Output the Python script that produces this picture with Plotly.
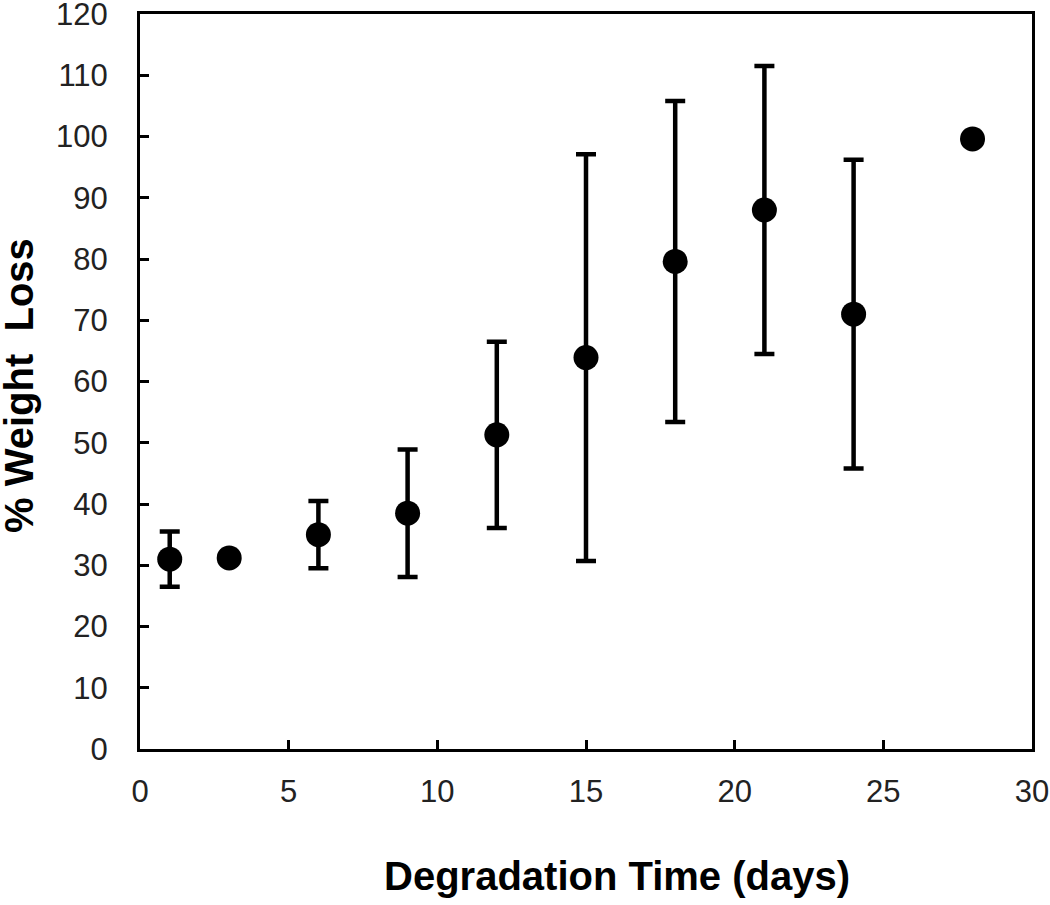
import plotly.graph_objects as go

days = [1, 3, 6, 9, 12, 15, 18, 21, 24, 28]
weight_loss = [31.0, 31.2, 35.0, 38.5, 51.3, 63.9, 79.6, 88.0, 71.0, 99.6]
error = [4.5, 0.5, 5.5, 10.4, 15.2, 33.2, 26.2, 23.5, 25.2, 0.0]

x_ticks = [0, 5, 10, 15, 20, 25, 30]
y_ticks = [0, 10, 20, 30, 40, 50, 60, 70, 80, 90, 100, 110, 120]

fig = go.Figure()
fig.add_trace(go.Scatter(
    x=days, y=weight_loss, mode="markers",
    marker=dict(color="black", size=25),
    error_y=dict(type="data", array=error, visible=True,
                 color="black", thickness=4.5, width=10),
    showlegend=False,
))

font_family = "Liberation Sans, Arial, sans-serif"
axis_common = dict(
    ticks="inside", ticklen=9, tickwidth=3, tickcolor="black",
    showline=True, linecolor="black", linewidth=3, mirror=True,
    showgrid=False, zeroline=False, automargin=False,
    ticklabeloverflow="allow",
    tickfont=dict(size=31, color="#222222"),
)
fig.update_layout(
    width=1050, height=905,
    margin=dict(l=140, r=18, t=14, b=156, autoexpand=False),
    plot_bgcolor="white", paper_bgcolor="white",
    font=dict(family=font_family, color="black"),
    xaxis=dict(range=[0, 30], tickvals=x_ticks, ticklabelstandoff=13, **axis_common),
    yaxis=dict(range=[0, 120], tickvals=y_ticks, ticklabelstandoff=23, **axis_common),
    annotations=[
        dict(text="<b>Degradation Time (days)</b>", xref="paper", yref="paper",
             x=(617 - 140) / 892, y=-(876 - 749) / 735, xanchor="center", yanchor="middle",
             showarrow=False, font=dict(size=40, color="black")),
        dict(text="<b>% Weight  Loss</b>", xref="paper", yref="paper",
             x=(19 - 140) / 892, y=(749 - 386) / 735, xanchor="center", yanchor="middle",
             textangle=-90, showarrow=False, font=dict(size=40, color="black")),
    ],
)

fig.write_html("out.html", config={"displayModeBar": False},
               post_script="document.body.style.margin='0';")
